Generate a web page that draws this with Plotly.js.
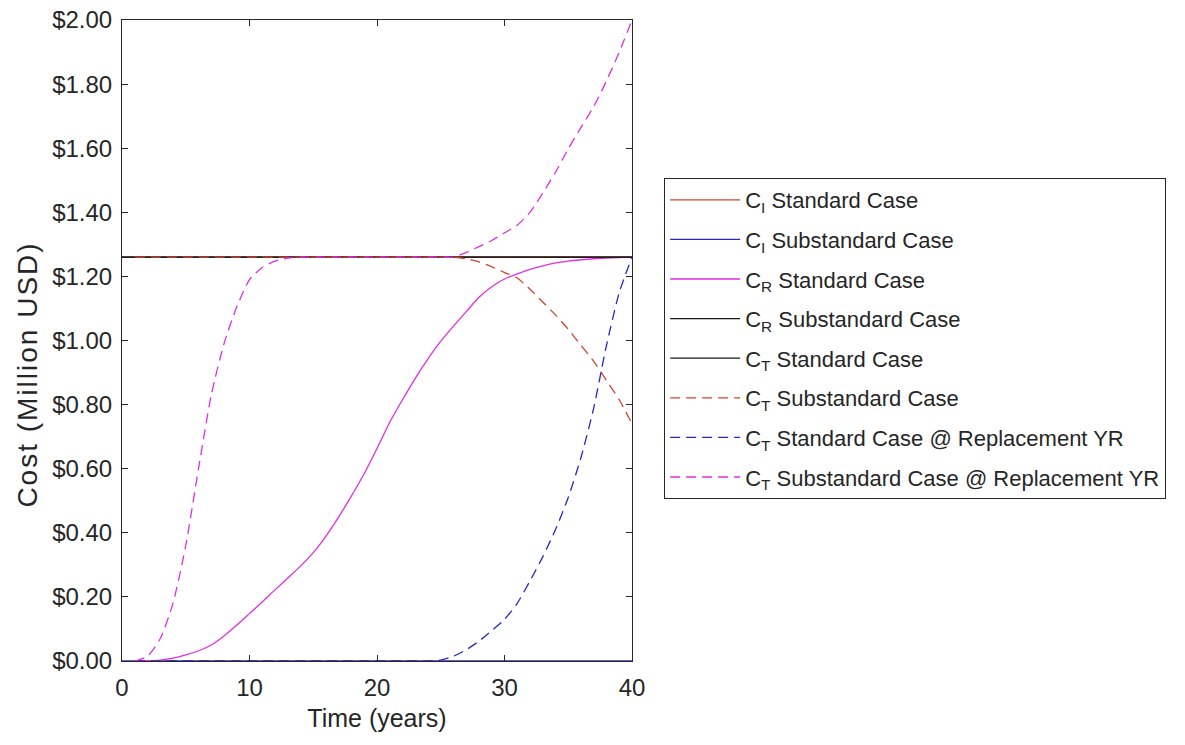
<!DOCTYPE html>
<html>
<head>
<meta charset="utf-8">
<script src="https://cdn.plot.ly/plotly-3.0.1.min.js"></script>
<style>
html,body{margin:0;padding:0;background:#fff;}
#chart{width:1185px;height:745px;}
#chart .annotation text{letter-spacing:2px;}
</style>
</head>
<body>
<div id="chart"></div>
<script>
// Time axis (years)
const years = [0,1,2,3,4,5,6,7,8,9,10,11,12,13,14,15,16,17,18,19,20,21,22,23,24,25,26,27,28,29,30,31,32,33,34,35,36,37,38,39,40];

// C_I Standard Case (hidden under the black lines)
const ciStandard = years.map(() => 1.26);
// C_I Substandard Case
const ciSubstandard = years.map(() => 0);
// C_R Standard Case
const crStandard = [null,0,0.001,0.003,0.009,0.019,0.032,0.05,0.078,0.112,0.148,0.184,0.222,0.259,0.296,0.338,0.39,0.45,0.515,0.585,0.663,0.745,0.815,0.882,0.943,0.998,1.045,1.09,1.135,1.168,1.192,1.208,1.222,1.233,1.242,1.248,1.252,1.255,1.257,1.259,1.26];
// C_R Substandard Case
const crSubstandard = years.map(() => 1.26);
// C_T Standard Case
const ctStandard = years.map(() => 1.26);
// C_T Substandard Case
const ctSubstandard = [null,1.26,1.26,1.26,1.26,1.26,1.26,1.26,1.26,1.26,1.26,1.26,1.26,1.26,1.26,1.26,1.26,1.26,1.26,1.26,1.26,1.26,1.26,1.26,1.26,1.26,1.26,1.255,1.245,1.23,1.212,1.195,1.16,1.12,1.08,1.035,0.985,0.935,0.875,0.815,0.74];
// C_T Standard Case @ Replacement YR
const ctStdRepl = [null,0,0,0,0,0,0,0,0,0,0,0,0,0,0,0,0,0,0,0,0,0,0,0,0,0.003,0.015,0.035,0.062,0.095,0.13,0.18,0.25,0.325,0.41,0.51,0.635,0.79,0.985,1.15,1.26];
// C_T Substandard Case @ Replacement YR
const ctSubRepl = [null,0,0.015,0.07,0.18,0.36,0.6,0.83,0.99,1.105,1.19,1.228,1.248,1.257,1.26,1.26,1.26,1.26,1.26,1.26,1.26,1.26,1.26,1.26,1.26,1.26,1.26,1.275,1.293,1.312,1.336,1.36,1.4,1.46,1.525,1.598,1.665,1.73,1.81,1.9,2.0];

const names = [
  "C<sub>I</sub> Standard Case",
  "C<sub>I</sub> Substandard Case",
  "C<sub>R</sub> Standard Case",
  "C<sub>R</sub> Substandard Case",
  "C<sub>T</sub> Standard Case",
  "C<sub>T</sub> Substandard Case",
  "C<sub>T</sub> Standard Case @ Replacement YR",
  "C<sub>T</sub> Substandard Case @ Replacement YR"
];
const series = [ciStandard, ciSubstandard, crStandard, crSubstandard, ctStandard, ctSubstandard, ctStdRepl, ctSubRepl];
const yTitle = 'Cost (Million USD)';
const xTitle = 'Time (years)';

const RED = '#d2432c', BLUE = '#2727c8', MAG = '#e22ee2', BLK = '#1a1a1a';
const colors = [RED, BLUE, MAG, BLK, BLK, RED, BLUE, MAG];
const dashes = ['solid','solid','solid','solid','solid','10px,6px','10px,6px','10px,6px'];

const traces = series.map((ys, i) => ({
  x: years, y: ys, name: names[i], type: 'scatter', mode: 'lines',
  legendgroup: 'g' + i,
  line: {color: colors[i], width: 1.3, dash: dashes[i], shape: 'spline', smoothing: 0.6},
  connectgaps: false
}));

const FONT = 'Liberation Sans, Arial, sans-serif';
const INK = '#262626';
const axisCommon = {
  showline: true, linecolor: INK, linewidth: 1, mirror: 'ticks',
  ticks: 'inside', ticklen: 6, tickcolor: INK,
  showgrid: false, zeroline: false,
  tickfont: {family: FONT, size: 24, color: INK}
};

const layout = {
  width: 1185, height: 745,
  margin: {l: 122, r: 553, t: 20, b: 84},
  paper_bgcolor: '#fff', plot_bgcolor: '#fff',
  font: {family: FONT, color: INK, size: 22},
  showlegend: true,
  legend: {
    x: 1.063, y: 0.7535, xanchor: 'left', yanchor: 'top',
    bordercolor: INK, borderwidth: 1, bgcolor: '#fff',
    font: {family: FONT, size: 22, color: INK},
    itemwidth: 70, tracegroupgap: 8, traceorder: 'grouped'
  },
  xaxis: Object.assign({}, axisCommon, {
    range: [0, 40], dtick: 10, tick0: 0, ticklabelstandoff: 5,
    title: {text: xTitle, font: {family: FONT, size: 25, color: INK}, standoff: 9}
  }),
  yaxis: Object.assign({}, axisCommon, {
    range: [0, 2], dtick: 0.2, tick0: 0, tickprefix: '$', tickformat: '.2f', ticklabelstandoff: 4
  }),
  annotations: [{
    text: yTitle, textangle: -90, showarrow: false,
    xref: 'paper', yref: 'paper', x: -0.186, y: 0.447,
    xanchor: 'center', yanchor: 'middle',
    font: {family: FONT, size: 28, color: INK}
  }]
};

Plotly.newPlot('chart', traces, layout, {displayModeBar: false});
</script>
</body>
</html>
